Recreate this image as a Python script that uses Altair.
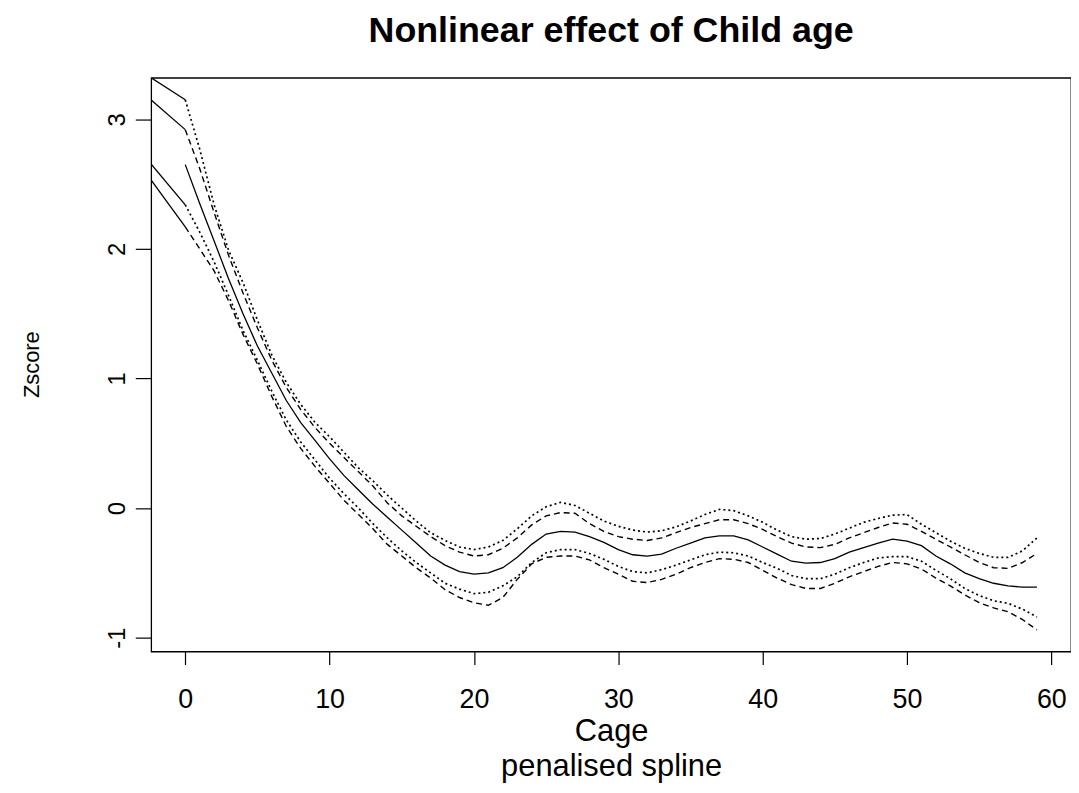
import altair as alt
import pandas as pd

# ---- data ----
age = list(range(60))

estimate = [2.65, 2.35, 2.06, 1.77, 1.50, 1.25, 1.04, 0.83, 0.66, 0.52,
            0.38, 0.25, 0.14, 0.03, -0.07, -0.17, -0.27, -0.37, -0.44, -0.49,
            -0.51, -0.50, -0.46, -0.38, -0.28, -0.20, -0.18, -0.185, -0.22, -0.265,
            -0.32, -0.36, -0.37, -0.355, -0.31, -0.27, -0.23, -0.215, -0.215, -0.245,
            -0.30, -0.355, -0.41, -0.425, -0.42, -0.39, -0.34, -0.305, -0.27, -0.24,
            -0.255, -0.29, -0.37, -0.43, -0.50, -0.545, -0.58, -0.60, -0.61, -0.61]

upper_dotted = [3.15, 2.77, 2.34, 1.99, 1.74, 1.45, 1.18, 0.97, 0.80, 0.66,
                0.55, 0.43, 0.31, 0.21, 0.10, 0.00, -0.10, -0.19, -0.25, -0.30,
                -0.32, -0.30, -0.25, -0.16, -0.06, 0.01, 0.044, 0.02, -0.04, -0.10,
                -0.14, -0.17, -0.185, -0.175, -0.145, -0.10, -0.05, -0.01, -0.02, -0.06,
                -0.11, -0.17, -0.22, -0.24, -0.235, -0.20, -0.155, -0.11, -0.08, -0.055,
                -0.05, -0.125, -0.19, -0.255, -0.31, -0.35, -0.38, -0.38, -0.33, -0.23]

upper_dashed = [2.92, 2.62, 2.28, 1.95, 1.66, 1.39, 1.14, 0.93, 0.76, 0.62,
                0.50, 0.39, 0.28, 0.17, 0.04, -0.06, -0.14, -0.22, -0.29, -0.34,
                -0.37, -0.36, -0.31, -0.23, -0.13, -0.06, -0.035, -0.04, -0.12, -0.18,
                -0.22, -0.24, -0.25, -0.23, -0.19, -0.15, -0.12, -0.09, -0.09, -0.12,
                -0.165, -0.22, -0.27, -0.30, -0.305, -0.28, -0.23, -0.19, -0.15, -0.115,
                -0.125, -0.18, -0.24, -0.30, -0.36, -0.42, -0.46, -0.465, -0.42, -0.35]

lower_dotted = [2.34, 2.13, 1.90, 1.64, 1.37, 1.14, 0.90, 0.68, 0.51, 0.37,
                0.23, 0.11, 0.00, -0.12, -0.23, -0.33, -0.42, -0.50, -0.58, -0.625,
                -0.66, -0.65, -0.60, -0.53, -0.42, -0.345, -0.32, -0.32, -0.35, -0.395,
                -0.45, -0.49, -0.50, -0.475, -0.44, -0.40, -0.36, -0.34, -0.345, -0.37,
                -0.42, -0.465, -0.52, -0.545, -0.545, -0.51, -0.46, -0.42, -0.385, -0.375,
                -0.375, -0.41, -0.48, -0.545, -0.62, -0.675, -0.715, -0.735, -0.78, -0.84]

lower_dashed = [2.17, 2.00, 1.83, 1.60, 1.34, 1.11, 0.86, 0.63, 0.46, 0.32,
                0.19, 0.06, -0.05, -0.16, -0.28, -0.37, -0.46, -0.54, -0.63, -0.69,
                -0.73, -0.75, -0.69, -0.55, -0.43, -0.38, -0.37, -0.37, -0.40, -0.46,
                -0.51, -0.565, -0.575, -0.55, -0.51, -0.46, -0.42, -0.39, -0.395, -0.42,
                -0.48, -0.54, -0.59, -0.62, -0.62, -0.58, -0.53, -0.49, -0.45, -0.42,
                -0.43, -0.47, -0.54, -0.60, -0.67, -0.73, -0.77, -0.80, -0.86, -0.94]

# short solid pieces entering from the left edge
seg_x = [-2.36, 0.0]
seg_1 = [3.32, 3.15]
seg_2 = [3.148, 2.92]
seg_3 = [2.653, 2.34]
seg_4 = [2.53, 2.17]

x_ticks = [0, 10, 20, 30, 40, 50, 60]
y_ticks = [-1, 0, 1, 2, 3]

# ---- build table ----
rows = []
for name, vals, style in [("estimate", estimate, "solid"),
                          ("upper_dotted", upper_dotted, "dotted"),
                          ("upper_dashed", upper_dashed, "dashed"),
                          ("lower_dotted", lower_dotted, "dotted"),
                          ("lower_dashed", lower_dashed, "dashed")]:
    for a, v in zip(age, vals):
        rows.append({"x": a, "y": v, "series": name, "style": style})
for name, vals in [("s1", seg_1), ("s2", seg_2), ("s3", seg_3), ("s4", seg_4)]:
    for a, v in zip(seg_x, vals):
        rows.append({"x": a, "y": v, "series": name, "style": "solid"})
df = pd.DataFrame(rows)

FONT = "Liberation Sans"

xenc = alt.X("x:Q",
             scale=alt.Scale(domain=[-2.36, 61.36], nice=False, zero=False),
             axis=alt.Axis(values=x_ticks, grid=False, domain=False,
                           tickSize=13, tickColor="black", tickWidth=1.2,
                           labelFont=FONT, labelFontSize=27, labelColor="black",
                           labelBaseline="middle", labelPadding=35,
                           labelFlush=False, labelOverlap=False,
                           title=["Cage", "penalised spline"],
                           titleFont=FONT, titleFontSize=31, titleFontWeight="normal",
                           titleColor="black", titleBaseline="middle",
                           titleLineHeight=36, titleY=80))
yenc = alt.Y("y:Q",
             scale=alt.Scale(domain=[-1.107, 3.32], nice=False, zero=False),
             axis=alt.Axis(values=y_ticks, grid=False, domain=False,
                           tickSize=16, tickColor="black", tickWidth=1.2,
                           labelFont=FONT, labelFontSize=24, labelColor="black",
                           labelExpr="'' + datum.value",
                           labelAngle=270, labelAlign="center", labelBaseline="middle",
                           labelPadding=18, labelFlush=False, labelOverlap=False,
                           title="Zscore", titleFont=FONT, titleFontSize=22,
                           titleFontWeight="normal", titleColor="black",
                           titleX=-120, titleY=288, titleBaseline="middle",
                           titleAlign="center", titleAngle=270))

base = alt.Chart(df)
solid = base.transform_filter(alt.datum.style == "solid").mark_line(
    color="black", strokeWidth=1.3, clip=True).encode(x=xenc, y=yenc, detail="series:N")
dashed = base.transform_filter(alt.datum.style == "dashed").mark_line(
    color="black", strokeWidth=1.4, strokeDash=[6, 4], clip=True).encode(
    x="x:Q", y="y:Q", detail="series:N")
dotted = base.transform_filter(alt.datum.style == "dotted").mark_line(
    color="black", strokeWidth=1.7, strokeDash=[2, 3], clip=True).encode(
    x="x:Q", y="y:Q", detail="series:N")

chart = alt.layer(solid, dashed, dotted).properties(
    width=925, height=577,
    autosize="none",
    padding={"left": 144, "top": 68, "right": 0, "bottom": 130},
    background="white",
    title=alt.TitleParams("Nonlinear effect of Child age", font=FONT, fontSize=36,
                          fontWeight="bold", color="black", anchor="middle",
                          baseline="alphabetic", offset=0),
).configure_view(stroke="black", strokeWidth=1.3)

chart.save("out.html", embed_options={"renderer": "svg", "actions": False})
